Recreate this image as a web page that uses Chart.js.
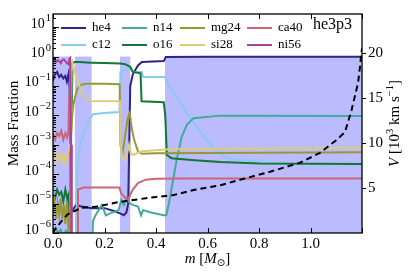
<!DOCTYPE html>
<html><head><meta charset="utf-8">
<script src="https://cdn.jsdelivr.net/npm/chart.js@4/dist/chart.umd.min.js"></script>
<style>html,body{margin:0;padding:0;background:#fff}</style>
</head><body>
<canvas id="c" width="411" height="274"></canvas>
<script>
// ---------- data ----------
const species = ['he4','c12','n14','o16','mg24','si28','ca40','ni56'];
const speciesColors = ['#332288','#88CCEE','#44AA99','#117733','#999933','#DDCC77','#CC6677','#AA4499'];

const he4M = [0,0.008,0.016,0.024,0.032,0.04,0.048,0.054,0.06,0.064,0.067,0.07,0.076,0.09,0.11,0.15,0.2,0.24,0.265,0.275,0.285,0.292,0.3,0.31,0.33,0.345,0.43,0.438,0.6,1.2];
const he4X = [0.15,0.25,0.3,0.2,0.24,0.18,0.22,0.14,0.25,0.12,0.01,5e-6,6e-6,9e-6,8e-6,7e-6,7e-6,5.5e-6,4.5e-6,4e-6,5e-6,1e-5,0.1,0.25,0.5,0.65,0.7,0.97,0.98,0.98];

const c12M = [0,0.086,0.09,0.095,0.103,0.112,0.125,0.14,0.155,0.2,0.258,0.262,0.28,0.3,0.31,0.345,0.35,0.435,0.45,0.5,0.52,0.55,0.6,0.65,0.7,0.8,0.9,1.2];
const c12X = [1e-8,1e-8,1e-6,2e-4,8e-4,1.5e-3,3e-3,7e-3,0.011,0.012,0.013,0.3,0.35,0.4,0.3,0.3,0.2,0.2,0.1,0.025,0.012,5e-3,1.3e-3,4.5e-4,3.2e-4,2.6e-4,2.3e-4,2.2e-4];

const n14M = [0,0.01,0.02,0.03,0.04,0.05,0.057,0.06,0.15,0.155,0.165,0.19,0.205,0.23,0.255,0.265,0.275,0.285,0.3,0.31,0.33,0.342,0.35,0.38,0.43,0.44,0.45,0.466,0.48,0.5,0.52,0.545,0.65,1.2];
const n14X = [1.2e-6,1.5e-6,1e-6,1.3e-6,8e-7,1.2e-6,1e-6,1e-8,1e-8,2.5e-6,4e-6,9e-6,4e-6,5e-6,6e-6,1.3e-5,9e-6,1.5e-5,1e-5,9e-6,8e-6,4e-6,6e-6,5e-6,4e-6,4e-6,1e-5,6e-5,3e-4,1.9e-3,4.8e-3,8e-3,9.8e-3,9.5e-3];

const o16M = [0,0.008,0.016,0.024,0.032,0.04,0.048,0.055,0.06,0.063,0.068,0.071,0.073,0.076,0.085,0.1,0.15,0.2,0.26,0.28,0.3,0.31,0.34,0.344,0.43,0.436,0.442,0.46,0.55,0.65,0.8,1.2];
const o16X = [2e-5,1.5e-5,3e-5,2e-5,2.5e-5,1.2e-5,3e-5,1.5e-5,2e-5,1e-8,1e-8,0.07,0.02,0.6,0.65,0.65,0.62,0.6,0.58,0.55,0.45,0.3,0.27,0.03,0.028,0.01,4.5e-4,3.5e-4,3e-4,2.6e-4,2.3e-4,2.2e-4];

const mg24M = [0,0.006,0.012,0.018,0.024,0.03,0.036,0.042,0.048,0.054,0.06,0.063,0.066,0.07,0.074,0.078,0.085,0.095,0.11,0.13,0.2,0.259,0.262,0.27,0.28,0.29,0.298,0.305,0.315,0.33,0.345,0.4,1.2];
const mg24X = [5e-6,1.2e-5,3e-6,1e-5,4e-6,1.5e-5,3e-6,9e-6,2e-6,1.2e-5,2e-6,1e-6,1e-4,2e-3,8e-3,0.02,0.04,0.08,0.11,0.12,0.12,0.115,1e-3,5e-4,2e-3,8e-3,0.012,4e-3,1.5e-3,6e-4,5e-4,5.2e-4,5.6e-4];

const si28M = [0,0.006,0.012,0.018,0.024,0.03,0.036,0.042,0.048,0.054,0.06,0.065,0.069,0.072,0.076,0.085,0.1,0.115,0.13,0.15,0.26,0.263,0.27,0.285,0.295,0.302,0.31,0.345,0.45,1.2];
const si28X = [3e-4,5e-4,2.5e-4,4e-4,5.5e-4,3e-4,4e-4,2.5e-4,4.5e-4,3e-4,6e-4,1e-3,1e-3,0.3,0.6,0.3,0.12,0.05,0.035,0.031,0.03,1e-3,3e-4,4e-4,1e-3,5e-4,4.5e-4,6e-4,7e-4,8e-4];

const ca40M = [0,0.008,0.016,0.024,0.032,0.04,0.048,0.055,0.06,0.063,0.066,0.069,0.072,0.094,0.097,0.12,0.18,0.258,0.265,0.28,0.292,0.3,0.31,0.33,0.36,0.4,0.5,1.2];
const ca40X = [2.5e-3,1.5e-3,2.5e-3,2e-3,3e-3,1.5e-3,2.5e-3,1.8e-3,3e-3,0.05,0.6,1e-3,1e-8,1e-8,3e-5,3.5e-5,3.5e-5,3.5e-5,2.2e-5,1.6e-5,1.4e-5,2e-5,3e-5,5e-5,6.5e-5,7e-5,7.2e-5,7.2e-5];

const ni56M = [0,0.006,0.012,0.018,0.024,0.03,0.036,0.042,0.048,0.054,0.06,0.064,0.067,0.07,0.073,1.2];
const ni56X = [0.7,0.8,0.65,0.75,0.7,0.6,0.75,0.8,0.7,0.6,0.55,0.85,0.9,1e-3,1e-8,1e-8];

const velM = [0,0.01,0.03,0.054,0.07,0.093,0.105,0.163,0.2,0.25,0.32,0.4,0.466,0.55,0.65,0.726,0.843,0.96,1.037,1.1,1.134,1.16,1.185,1.192,1.197,1.2];
const velV = [0,0.5,1.2,2.0,2.3,2.55,2.8,2.9,3.1,3.4,3.7,4.0,4.2,4.8,5.3,5.9,6.8,7.8,8.9,10.3,11.2,13.7,16.7,18.4,19.8,20.5];

const shadeStart = [0, 0.085, 0.26, 0.435];
const shadeEnd   = [0.066, 0.15, 0.30, 1.2];

const xTicks = [0, 0.2, 0.4, 0.6, 0.8, 1.0, 1.2];
const xTickLabels = ['0.0','0.2','0.4','0.6','0.8','1.0',''];
const yExps = [-6,-5,-4,-3,-2,-1,0,1];
const vTicks = [5, 10, 15, 20];
const modelName = 'he3p3';

const speciesM = [he4M,c12M,n14M,o16M,mg24M,si28M,ca40M,ni56M];
const speciesX = [he4X,c12X,n14X,o16X,mg24X,si28X,ca40X,ni56X];

// ---------- chart ----------
const SERIF = '"Liberation Serif", "DejaVu Serif", serif';
const datasets = species.map((s, i) => ({
  label: s,
  data: speciesM[i].map((m, k) => ({x: m, y: speciesX[i][k]})),
  borderColor: speciesColors[i],
  backgroundColor: speciesColors[i],
  borderWidth: 2,
  pointRadius: 0,
  tension: 0,
  fill: false,
  yAxisID: 'y',
  order: 8 - i
}));
datasets.push({
  label: 'V',
  data: velM.map((m, k) => ({x: m, y: velV[k]})),
  borderColor: '#000',
  borderWidth: 2,
  borderDash: [6, 4],
  pointRadius: 0,
  tension: 0,
  fill: false,
  yAxisID: 'y2',
  order: -1
});

const decor = {
  id: 'decor',
  beforeDatasetsDraw(chart) {
    const {ctx, scales: {x, y}} = chart;
    ctx.save();
    ctx.fillStyle = 'rgba(120,120,255,0.5)';
    const yt = y.getPixelForValue(1), yb = y.getPixelForValue(1e-6);
    for (let i = 0; i < shadeStart.length; i++) {
      const x0 = x.getPixelForValue(shadeStart[i]), x1 = x.getPixelForValue(shadeEnd[i]);
      ctx.fillRect(x0, yt, x1 - x0, yb - yt);
    }
    ctx.restore();
  },
  afterDraw(chart) {
    const {ctx, chartArea: a, scales: {x, y, y2}} = chart;
    ctx.save();
    ctx.strokeStyle = '#000';
    ctx.fillStyle = '#000';
    ctx.lineWidth = 1.3;
    ctx.strokeRect(a.left, a.top, a.right - a.left, a.bottom - a.top);
    ctx.lineWidth = 1;
    ctx.beginPath();
    xTicks.forEach(v => {
      const px = Math.round(x.getPixelForValue(v)) + 0.5;
      ctx.moveTo(px, a.bottom); ctx.lineTo(px, a.bottom - 5);
      ctx.moveTo(px, a.top); ctx.lineTo(px, a.top + 5);
    });
    yExps.forEach(e => {
      const py = Math.round(y.getPixelForValue(Math.pow(10, e))) + 0.5;
      ctx.moveTo(a.left, py); ctx.lineTo(a.left + 6, py);
      for (let k = 2; k <= 9; k++) {
        const v = k * Math.pow(10, e);
        if (v > y.max) break;
        const pm = Math.round(y.getPixelForValue(v)) + 0.5;
        ctx.moveTo(a.left, pm); ctx.lineTo(a.left + 3, pm);
      }
    });
    vTicks.forEach(v => {
      const py = Math.round(y2.getPixelForValue(v)) + 0.5;
      ctx.moveTo(a.right, py); ctx.lineTo(a.right + 4, py);
    });
    ctx.stroke();

    ctx.font = '15px ' + SERIF;
    ctx.textAlign = 'center'; ctx.textBaseline = 'alphabetic';
    xTicks.forEach((v, i) => { if (xTickLabels[i]) ctx.fillText(xTickLabels[i], x.getPixelForValue(v), a.bottom + 15); });

    yExps.forEach(e => {
      const py = y.getPixelForValue(Math.pow(10, e));
      const sup = e < 0 ? '\u2212' + (-e) : String(e);
      ctx.font = '14px ' + SERIF; const wb = ctx.measureText('10').width;
      ctx.font = '10.5px ' + SERIF; const ws = ctx.measureText(sup).width;
      const x0 = a.left - 2 - wb - ws - 1;
      ctx.textAlign = 'left';
      ctx.font = '14px ' + SERIF; ctx.fillText('10', x0, py + 0.5);
      ctx.font = '10.5px ' + SERIF; ctx.fillText(sup, x0 + wb + 1, py - 6);
    });

    ctx.font = '15px ' + SERIF; ctx.textAlign = 'left'; ctx.textBaseline = 'middle';
    vTicks.forEach(v => ctx.fillText(String(v), a.right + 6, y2.getPixelForValue(v) + 0.5));

    ctx.save();
    ctx.translate(14, (a.top + a.bottom) / 2);
    ctx.rotate(-Math.PI / 2);
    ctx.font = '15px ' + SERIF; ctx.textAlign = 'center'; ctx.textBaseline = 'middle';
    ctx.fillText('Mass Fraction', 0, 0);
    ctx.restore();

    function runs(parts) {
      let w = 0;
      parts.forEach(p => { ctx.font = p.f; p.w = ctx.measureText(p.t).width; w += p.w; });
      return w;
    }
    function drawRuns(parts, x0, base) {
      let cx = x0;
      ctx.textAlign = 'left'; ctx.textBaseline = 'alphabetic';
      parts.forEach(p => { ctx.font = p.f; ctx.fillText(p.t, cx, base + (p.dy || 0)); cx += p.w; });
    }
    const xt = [
      {t: 'm', f: 'italic 15px ' + SERIF},
      {t: ' [', f: '15px ' + SERIF},
      {t: 'M', f: 'italic 15px ' + SERIF},
      {t: '\u2299', f: '10px "DejaVu Sans", sans-serif', dy: 3},
      {t: ']', f: '15px ' + SERIF}
    ];
    const xw = runs(xt);
    drawRuns(xt, (a.left + a.right) / 2 - xw / 2, 263);

    const rt = [
      {t: 'V', f: 'italic 15px ' + SERIF},
      {t: ' [10', f: '15px ' + SERIF},
      {t: '3', f: '10.5px ' + SERIF, dy: -6},
      {t: ' km s', f: '15px ' + SERIF},
      {t: '\u22121', f: '10.5px ' + SERIF, dy: -6},
      {t: ']', f: '15px ' + SERIF}
    ];
    ctx.save();
    ctx.translate(399, (a.top + a.bottom) / 2);
    ctx.rotate(-Math.PI / 2);
    const rw = runs(rt);
    drawRuns(rt, -rw / 2, 0);
    ctx.restore();

    ctx.font = '16px ' + SERIF; ctx.textAlign = 'right'; ctx.textBaseline = 'middle';
    ctx.fillText(modelName, a.right - 10, a.top + 11);

    const textX = [92, 153, 211, 278];
    const rowY = [28, 45];
    ctx.font = '13px ' + SERIF; ctx.textAlign = 'left'; ctx.textBaseline = 'middle';
    species.forEach((s, i) => {
      const col = Math.floor(i / 2), row = i % 2;
      const tx = textX[col], ty = rowY[row];
      ctx.strokeStyle = speciesColors[i]; ctx.lineWidth = 2;
      ctx.beginPath(); ctx.moveTo(tx - 31, ty); ctx.lineTo(tx - 6, ty); ctx.stroke();
      ctx.fillStyle = '#000';
      ctx.fillText(s, tx, ty);
    });
    ctx.restore();
  }
};

new Chart(document.getElementById('c'), {
  type: 'line',
  data: {datasets},
  options: {
    responsive: false,
    animation: false,
    devicePixelRatio: 1,
    layout: {padding: {left: 53, right: 49, top: 14, bottom: 41}},
    plugins: {legend: {display: false}, tooltip: {enabled: false}},
    scales: {
      x: {type: 'linear', min: 0, max: 1.2, display: false},
      y: {type: 'logarithmic', min: 1e-6, max: 28, display: false},
      y2: {type: 'linear', position: 'right', min: 0, max: 24.3, display: false}
    }
  },
  plugins: [decor]
});
</script>
</body></html>
